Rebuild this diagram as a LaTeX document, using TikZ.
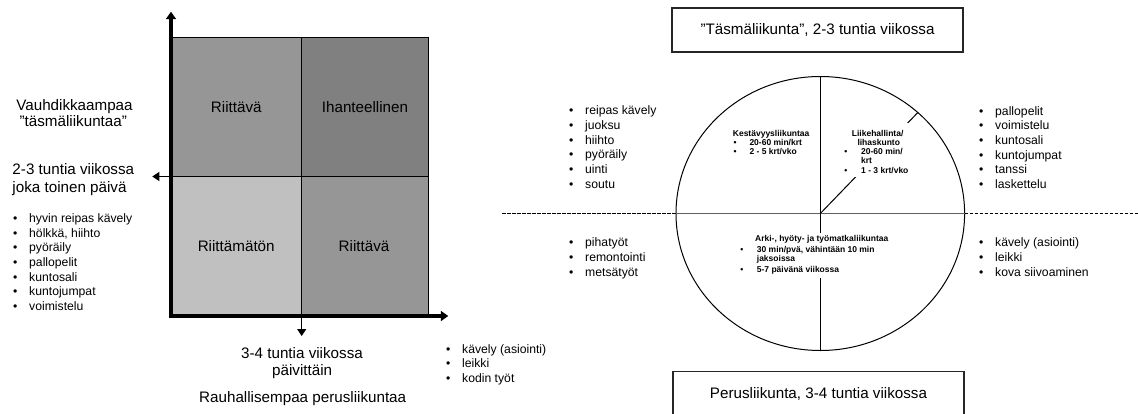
\documentclass[tikz,border=0pt]{standalone}
\usepackage{fontspec}
\setmainfont{Liberation Sans}
\usetikzlibrary{arrows.meta,shapes.geometric}
\definecolor{cA}{HTML}{969696}
\definecolor{cB}{HTML}{808080}
\definecolor{cC}{HTML}{C0C0C0}
\definecolor{hline}{HTML}{606060}
\newcommand{\bul}[1]{\makebox[#1][l]{•}}
\tikzset{
 mtxt/.style={font=\fontsize{15.2}{18}\selectfont, inner sep=0pt, anchor=base},
 mtxtw/.style={font=\fontsize{15.2}{18}\selectfont, inner sep=0pt, anchor=base west},
 ltxt/.style={font=\fontsize{12.2}{14.7}\selectfont, inner sep=0pt, anchor=base west},
 stxt/.style={font=\bfseries\fontsize{8.5}{9.5}\selectfont, inner sep=0pt, anchor=base west},
 axisline/.style={line width=3.5pt, {Triangle[length=7.5pt,width=10pt]}-{Triangle[length=7.5pt,width=10pt]}},
 thinarr/.style={line width=1pt, -{Triangle[length=7pt,width=9pt]}},
 cellb/.style={draw=black, line width=1pt},
 dsh/.style={line width=1.6pt, dash pattern=on 3.5pt off 1.5pt},
 mask/.style={fill=white, draw=none, inner sep=0pt},
 tbox/.style={draw=black!85, line width=1.2pt, inner sep=0pt, font=\fontsize{15.2}{18}\selectfont},
 thin1/.style={line width=1pt}
}
\begin{document}
\begin{tikzpicture}[x=1pt,y=-1pt]
\useasboundingbox (0,0) rectangle (1138,413);
\clip (0,0) rectangle (1138,413);
\fill[white] (0,0) rectangle (1138,413);

% ---------- left: quadrant chart ----------
\filldraw[cellb, fill=cA] (171,37.3) rectangle (301.7,176.5);
\filldraw[cellb, fill=cB] (301.7,37.3) rectangle (428,176.5);
\filldraw[cellb, fill=cC] (171,176.5) rectangle (301.7,316);
\filldraw[cellb, fill=cA] (301.7,176.5) rectangle (428,316);

\node[mtxt] (q1) at (236.3,112.3) {Riittävä};
\node[mtxt] (q2) at (365,112.3) {Ihanteellinen};
\node[mtxt] (q3) at (236.2,251) {Riittämätön};
\node[mtxt] (q4) at (364,251) {Riittävä};

\coordinate (ml) at (171,176.5);
\coordinate (ltip) at (152.3,176.5);
\coordinate (md) at (301.7,316);
\coordinate (dtip) at (301.7,336);
\draw[thinarr] (ml) -- (ltip);
\draw[thinarr] (md) -- (dtip);

\coordinate (o) at (171,316);
\coordinate (ytip) at (171,11.7);
\coordinate (xtip) at (448.3,316);
\draw[axisline] (ytip) -- (o) -- (xtip);

\node[mtxt] (v1) at (74.5,110) {Vauhdikkaampaa};
\node[mtxt] (v2) at (73.3,126.5) {”täsmäliikuntaa”};
\node[mtxtw] (v3) at (12.3,174.3) {2-3 tuntia viikossa};
\node[mtxtw] (v4) at (12.3,192.5) {joka toinen päivä};

\foreach \t [count=\i from 0] in {hyvin reipas kävely, {hölkkä, hiihto}, pyöräily, pallopelit, kuntosali, kuntojumpat, voimistelu}
  \node[ltxt] (la\i) at (13,{222.3+14.7*\i}) {\bul{16pt}\t};

\node[mtxt] (b1) at (302,358.3) {3-4 tuntia viikossa};
\node[mtxt] (b2) at (302.2,375.7) {päivittäin};
\node[mtxt] (b3) at (302.7,402.3) {Rauhallisempaa perusliikuntaa};

\foreach \t [count=\i from 0] in {kävely (asiointi), leikki, kodin työt}
  \node[ltxt] (lb\i) at (446,{353.3+14.5*\i}) {\bul{16pt}\t};

% ---------- right: circle chart ----------
\node[tbox, minimum width=291pt, minimum height=44pt] (top) at (817.5,30) {”Täsmäliikunta”, 2-3 tuntia viikossa};
\node[tbox, minimum width=291pt, minimum height=45pt, anchor=north] (bot) at (818.5,371) {Perusliikunta, 3-4 tuntia viikossa};

\node[draw, ellipse, thin1, minimum width=288.6pt, minimum height=274pt, inner sep=0pt, outer sep=0pt] (circ) at (820.3,213.5) {};
\draw[hline, thin1] (circ.west) -- (circ.east);
\draw[thin1] (circ.north) -- (circ.south);
\draw[thin1] (circ.center) -- (circ.46);

\coordinate (dl) at (502,213.5);
\coordinate (dr) at (1138,213.5);
\draw[dsh] (dl) -- (circ.west);
\draw[dsh] (circ.east) -- (dr);

\node[mask, minimum width=66pt, minimum height=54pt] (lihm) at (876,150) {};
\node[mask, minimum width=138pt, minimum height=45pt] (arkim) at (807,255.5) {};

\node[stxt] (k0) at (732.7,136.5) {Kestävyysliikuntaa};
\node[stxt] (k1) at (733.3,145) {\bul{16pt}20-60 min/krt};
\node[stxt] (k2) at (733.3,154) {\bul{16pt}2 - 5 krt/vko};

\node[stxt] (h0) at (851.7,136.3) {Liikehallinta/};
\node[stxt] (h1) at (857.3,145) {lihaskunto};
\node[stxt] (h2) at (844.2,154) {\bul{16.8pt}20-60 min/};
\node[stxt] (h3) at (861,163.3) {krt};
\node[stxt] (h4) at (844.2,173.3) {\bul{16.8pt}1 - 3 krt/vko};

\node[stxt] (a0) at (755,241.7) {Arki-, hyöty- ja työmatkaliikuntaa};
\node[stxt] (a1) at (740.2,252.3) {\bul{16.5pt}30 min/pvä, vähintään 10 min};
\node[stxt] (a2) at (756.7,261.7) {jaksoissa};
\node[stxt] (a3) at (740.2,272.3) {\bul{16.5pt}5-7 päivänä viikossa};

\foreach \t [count=\i from 0] in {reipas kävely, juoksu, hiihto, pyöräily, uinti, soutu}
  \node[ltxt] (lc\i) at (569,{114.6+14.7*\i}) {\bul{16pt}\t};
\foreach \t [count=\i from 0] in {pihatyöt, remontointi, metsätyöt}
  \node[ltxt] (ld\i) at (569,{246.6+14.7*\i}) {\bul{16pt}\t};
\foreach \t [count=\i from 0] in {pallopelit, voimistelu, kuntosali, kuntojumpat, tanssi, laskettelu}
  \node[ltxt] (le\i) at (979,{115.3+14.6*\i}) {\bul{16pt}\t};
\foreach \t [count=\i from 0] in {kävely (asiointi), leikki, kova siivoaminen}
  \node[ltxt] (lf\i) at (979,{246.6+14.7*\i}) {\bul{16pt}\t};
\end{tikzpicture}
\end{document}
